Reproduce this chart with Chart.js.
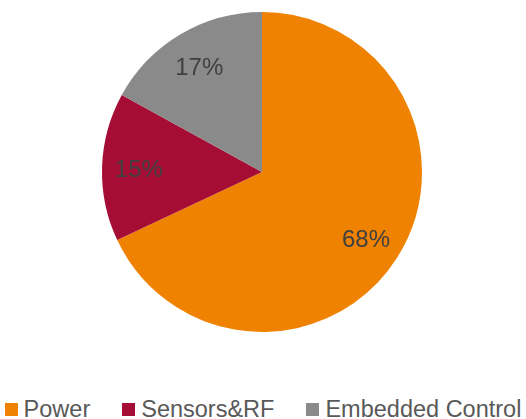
<!DOCTYPE html>
<html>
<head>
<meta charset="utf-8">
<script src="https://cdn.jsdelivr.net/npm/chart.js@4/dist/chart.umd.min.js"></script>
<style>
    html, body { margin: 0; padding: 0; background: #fff; }
    body { width: 526px; height: 419px; position: relative; overflow: hidden; font-family: "Liberation Sans", Arial, sans-serif; }
    #pie-wrap { position: absolute; left: 0; top: 0; width: 526px; height: 344px; }
    #legend { position: absolute; left: 0; top: 397px; width: 526px; height: 24px; display: flex; justify-content: center; align-items: center; gap: 32px; font-size: 23.5px; line-height: 24px; color: #595959; }
    .legend-item { display: flex; align-items: center; white-space: nowrap; }
    .legend-box { width: 13px; height: 13px; margin-right: 6px; }
</style>
</head>
<body>
<div id="pie-wrap"><canvas id="segmentChart"></canvas></div>
<div id="legend"></div>
<script>
const segments = ['Power', 'Sensors&RF', 'Embedded Control'];
const shares = [68, 15, 17];
const sliceColors = ['#EF8200', '#A50D35', '#8A8A8A'];

// percentage labels placed inside each slice, ~3/4 of the way out
const sliceLabels = {
    id: 'sliceLabels',
    afterDatasetsDraw(chart) {
        const ctx = chart.ctx;
        const arcs = chart.getDatasetMeta(0).data;
        const total = shares.reduce((a, b) => a + b, 0);
        ctx.save();
        ctx.font = '24px "Liberation Sans", Arial, sans-serif';
        ctx.fillStyle = '#404040';
        ctx.textAlign = 'center';
        ctx.textBaseline = 'middle';
        arcs.forEach((arc, i) => {
            const mid = (arc.startAngle + arc.endAngle) / 2;
            const dist = arc.outerRadius * 0.77;
            const x = arc.x + Math.cos(mid) * dist;
            const y = arc.y + Math.sin(mid) * dist + 2;
            ctx.fillText(Math.round(shares[i] / total * 100) + '%', x, y);
        });
        ctx.restore();
    }
};

const ctx = document.getElementById('segmentChart').getContext('2d');
const segmentChart = new Chart(ctx, {
    type: 'pie',
    data: {
        labels: segments,
        datasets: [{
            data: shares,
            backgroundColor: sliceColors,
            borderWidth: 0
        }]
    },
    options: {
        responsive: true,
        maintainAspectRatio: false,
        animation: false,
        layout: { padding: { top: 12, bottom: 12, left: 0, right: 2 } },
        plugins: {
            legend: { display: false },
            tooltip: { enabled: false }
        }
    },
    plugins: [sliceLabels]
});

const legend = document.getElementById('legend');
legend.innerHTML = segments.map((name, i) => `
    <div class="legend-item">
        <span class="legend-box" style="background:${sliceColors[i]}"></span>
        <span>${name}</span>
    </div>
`).join('');
</script>
</body>
</html>
